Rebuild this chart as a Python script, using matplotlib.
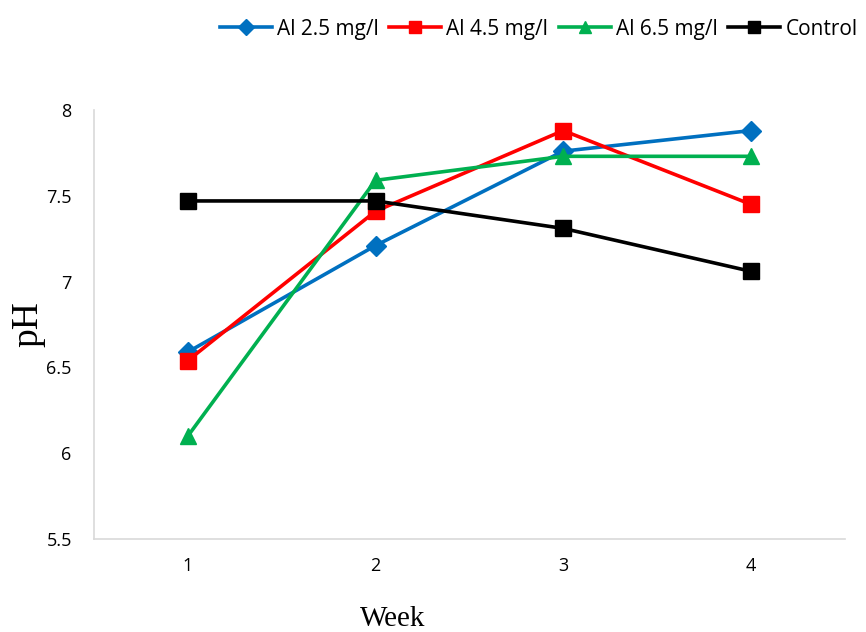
import matplotlib
matplotlib.use("Agg")
import matplotlib.pyplot as plt

weeks = [1, 2, 3, 4]
al_25 = [6.59, 7.21, 7.76, 7.88]
al_45 = [6.54, 7.41, 7.88, 7.45]
al_65 = [6.10, 7.59, 7.73, 7.73]
control = [7.47, 7.47, 7.31, 7.06]

series = [
    ("Al 2.5 mg/l", al_25, "#0070C0", "D", 10),
    ("Al 4.5 mg/l", al_45, "#FF0000", "s", 11),
    ("Al 6.5 mg/l", al_65, "#00B050", "^", 11),
    ("Control", control, "#000000", "s", 11),
]

fig = plt.figure(figsize=(8.66, 6.32), dpi=100)
ax = fig.add_axes([0.1085, 0.147, 0.867, 0.679])

for name, vals, col, mk, ms in series:
    ax.plot(weeks, vals, color=col, lw=2.6, marker=mk, markersize=ms, label=name)

ax.set_xlim(0.5, 4.5)
ax.set_ylim(5.5, 8)
ax.set_xticks(weeks)
ax.set_yticks([5.5, 6, 6.5, 7, 7.5, 8])
ax.set_yticklabels(["5.5", "6", "6.5", "7", "7.5", "8"])
ax.tick_params(length=0, labelsize=13)
ax.tick_params(axis="y", pad=16)
ax.tick_params(axis="x", pad=13)
for lab in ax.get_xticklabels() + ax.get_yticklabels():
    lab.set_fontfamily("Open Sans")

for s in ["top", "right"]:
    ax.spines[s].set_visible(False)
for s in ["left", "bottom"]:
    ax.spines[s].set_color("#d9d9d9")
    ax.spines[s].set_linewidth(1.2)

ax.set_ylabel("pH", fontfamily="Liberation Serif", fontsize=27)
ax.yaxis.set_label_coords(-0.065, 0.5)
ax.set_xlabel("Week", fontfamily="Liberation Serif", fontsize=21)
ax.xaxis.set_label_coords(0.398, -0.155)

leg = fig.legend(loc="upper right", bbox_to_anchor=(1.012, 1.0), ncol=4, frameon=False,
                 prop={"family": "Open Sans", "size": 15}, handlelength=2.5,
                 columnspacing=0.5, handletextpad=0.25, markerscale=0.85)

fig.savefig("out.png", dpi=100, facecolor="white")
